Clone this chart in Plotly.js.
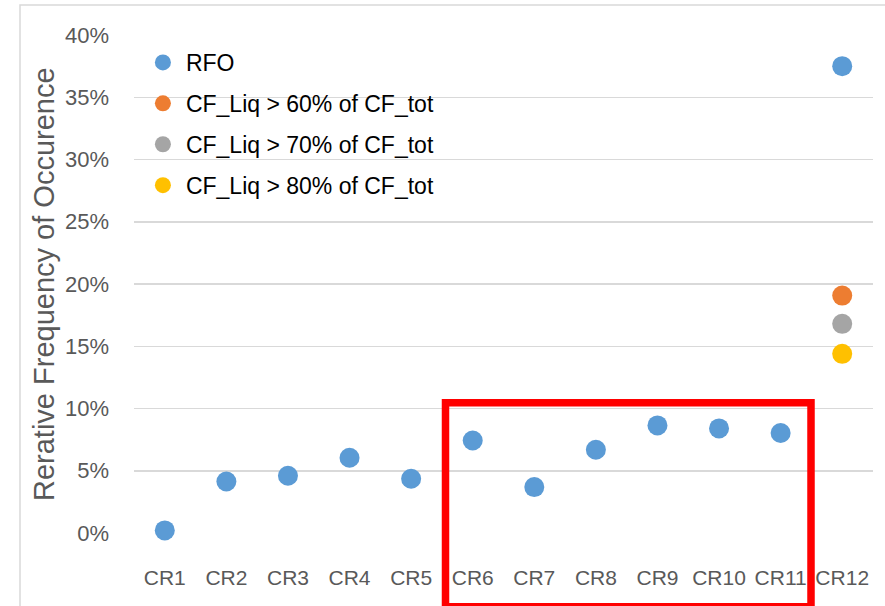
<!DOCTYPE html>
<html>
<head>
<meta charset="utf-8">
<script src="https://cdn.plot.ly/plotly-3.0.1.min.js"></script>
<style>
  html, body { margin: 0; padding: 0; background: #fff; }
  #chart { width: 885px; height: 606px; }
</style>
</head>
<body>
<div id="chart"></div>
<script>
// ---- data ----
const categories = ['CR1','CR2','CR3','CR4','CR5','CR6','CR7','CR8','CR9','CR10','CR11','CR12'];
const rfo     = [0.0021, 0.0414, 0.0460, 0.0604, 0.0436, 0.0743, 0.0369, 0.0669, 0.0864, 0.0840, 0.0803, 0.3750];
const liqCats = ['CR12'];
const liq60   = [0.1907];
const liq70   = [0.1680];
const liq80   = [0.1439];
const seriesNames = ['RFO', 'CF_Liq > 60% of CF_tot', 'CF_Liq > 70% of CF_tot', 'CF_Liq > 80% of CF_tot'];
const colors = ['#5b9bd5', '#ed7d31', '#a5a5a5', '#ffc000'];
const yTitle = 'Rerative Frequency of Occurence';

const sans = '"Liberation Sans", Arial, sans-serif';
const mk = (c) => ({ color: c, size: 20 });

const traces = [
  { x: categories, y: rfo,   name: seriesNames[0], legendgroup: 'g0', type: 'scatter', mode: 'markers', marker: mk(colors[0]), cliponaxis: false },
  { x: liqCats,    y: liq60, name: seriesNames[1], legendgroup: 'g1', type: 'scatter', mode: 'markers', marker: mk(colors[1]), cliponaxis: false },
  { x: liqCats,    y: liq70, name: seriesNames[2], legendgroup: 'g2', type: 'scatter', mode: 'markers', marker: mk(colors[2]), cliponaxis: false },
  { x: liqCats,    y: liq80, name: seriesNames[3], legendgroup: 'g3', type: 'scatter', mode: 'markers', marker: mk(colors[3]), cliponaxis: false }
];

const layout = {
  width: 885, height: 606,
  margin: { l: 134, r: 12, t: 35, b: 72.7 },
  paper_bgcolor: '#ffffff', plot_bgcolor: '#ffffff',
  showlegend: true,
  legend: {
    x: 0.008, y: 0.988, xanchor: 'left', yanchor: 'top',
    bgcolor: 'rgba(0,0,0,0)',
    font: { family: sans, size: 23, color: '#000000' },
    traceorder: 'grouped',
    tracegroupgap: 8,
    itemwidth: 36
  },
  xaxis: {
    type: 'category',
    categoryorder: 'array', categoryarray: categories,
    range: [-0.5, 11.5],
    showgrid: false, zeroline: false, showline: false, ticks: '',
    tickangle: 0,
    tickfont: { family: sans, size: 21, color: '#595959' },
    ticklabelstandoff: 30,
    fixedrange: true
  },
  yaxis: {
    range: [0, 0.40],
    dtick: 0.05, tick0: 0,
    tickformat: '.0%',
    showgrid: true, gridcolor: '#d9d9d9', gridwidth: 1.5,
    zeroline: false, showline: false, ticks: '',
    tickfont: { family: sans, size: 22, color: '#595959' },
    ticklabelstandoff: 24,
    fixedrange: true
  },
  annotations: [{
    text: yTitle, xref: 'paper', yref: 'paper',
    x: -0.1218, y: 0.5, xanchor: 'center', yanchor: 'middle',
    textangle: -90, showarrow: false,
    font: { family: sans, size: 29, color: '#595959' }
  }],
  shapes: [
    { type: 'rect', xref: 'paper', yref: 'paper',
      x0: (20 - 134) / 739, x1: 1.2, y0: -0.4, y1: (533.3 - 5) / 498.3,
      line: { color: '#d9d9d9', width: 1.5 }, fillcolor: 'rgba(0,0,0,0)', layer: 'below' },
    { type: 'rect', xref: 'paper', yref: 'paper',
      x0: (445.5 - 134) / 739, x1: (811 - 134) / 739,
      y0: (533.3 - 607) / 498.3, y1: (533.3 - 403) / 498.3,
      line: { color: '#ff0000', width: 7.5 }, fillcolor: 'rgba(0,0,0,0)', layer: 'above' }
  ]
};

Plotly.newPlot('chart', traces, layout, { displayModeBar: false, staticPlot: true });
</script>
</body>
</html>
